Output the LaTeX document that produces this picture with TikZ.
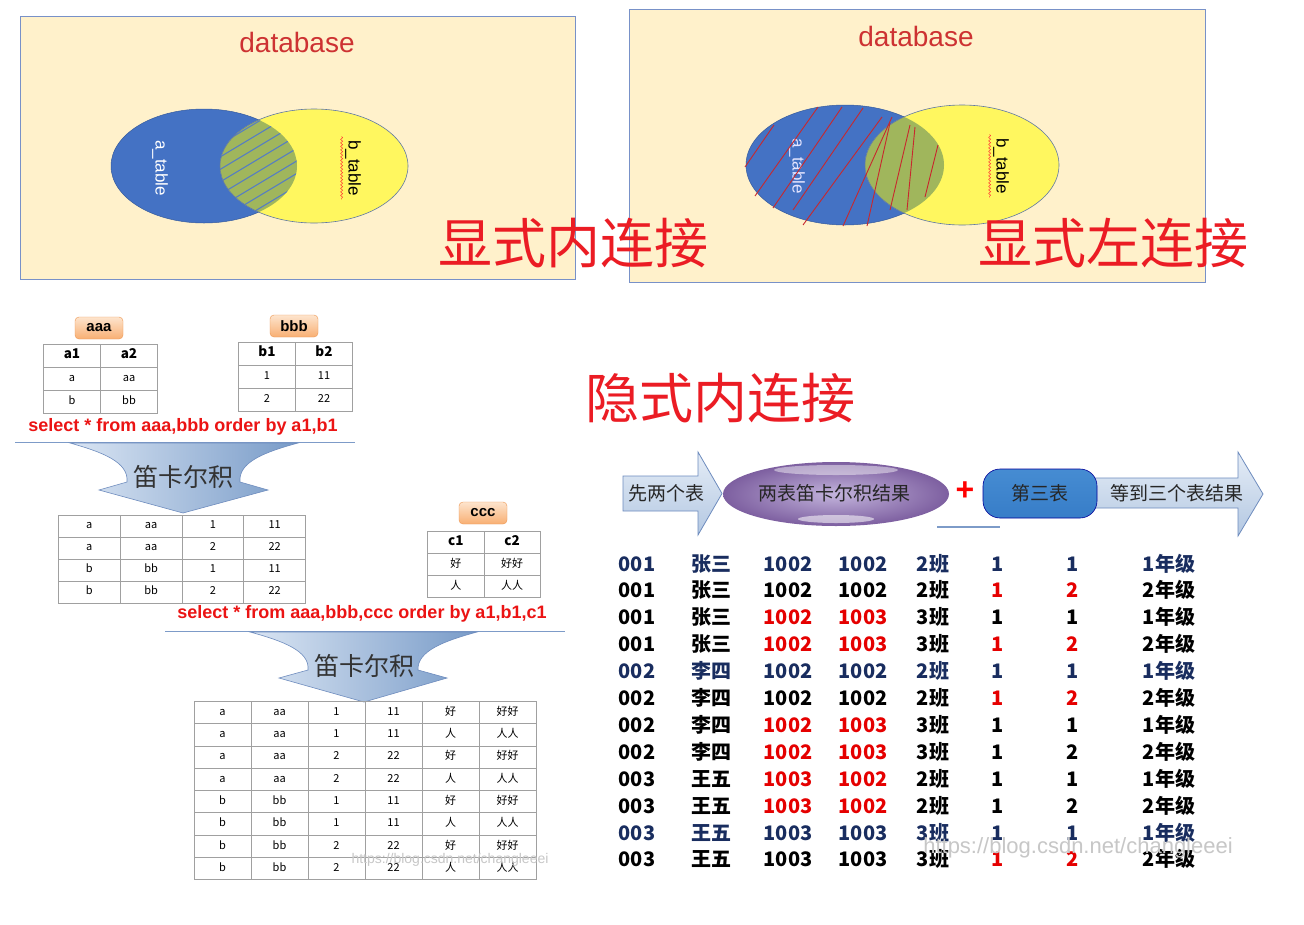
\documentclass[tikz,border=0pt]{standalone}
\usepackage{fontspec}
\setmainfont{Liberation Sans}
\newfontfamily\cjk{Noto Sans CJK SC}
\usetikzlibrary{matrix,positioning,calc,decorations.pathmorphing}
\definecolor{cream}{RGB}{255,241,203}
\definecolor{boxedge}{RGB}{120,145,200}
\definecolor{dbred}{RGB}{205,50,50}
\definecolor{bigred}{RGB}{235,28,36}
\definecolor{venblue}{RGB}{68,114,196}
\definecolor{venyellow}{RGB}{255,247,95}
\definecolor{venolive}{RGB}{160,182,92}
\definecolor{venedge}{RGB}{95,120,165}
\definecolor{hatchblue}{RGB}{85,125,195}
\definecolor{hatchred}{RGB}{200,40,45}
\definecolor{gridgray}{RGB}{160,160,160}
\definecolor{tagtop}{RGB}{253,228,205}
\definecolor{tagbot}{RGB}{248,175,115}
\definecolor{tagedge}{RGB}{238,150,80}
\definecolor{selred}{RGB}{235,20,20}
\definecolor{sepblue}{RGB}{125,155,200}
\definecolor{arrlight}{RGB}{218,229,243}
\definecolor{arrdark}{RGB}{120,155,200}
\definecolor{arredge}{RGB}{110,140,190}
\definecolor{navytxt}{RGB}{25,45,95}
\definecolor{purpout}{RGB}{125,95,160}
\definecolor{purpin}{RGB}{195,180,220}
\newcommand{\fsz}[1]{\fontsize{#1}{#1}\selectfont}

\begin{document}
\begin{tikzpicture}[x=1pt,y=-1pt,
  dbbox/.style={draw=boxedge,fill=cream,line width=0.9pt},
  dbtitle/.style={text=dbred,font=\fsz{28}},
  bigtxt/.style={text=bigred,font=\cjk\fsz{54}},
  tabname/.style={draw=tagedge,rounded corners=4,top color=tagtop,bottom color=tagbot,
    font=\bfseries\fsz{15},minimum width=48,minimum height=22,inner sep=0},
  tbl/.style={matrix of nodes,row sep=-0.8pt,column sep=-0.8pt,
    nodes={draw=gridgray,line width=0.8pt,inner sep=0,anchor=center,
      text height=8,text depth=2.5,font=\cjk\fsz{11}}},
  hdr/.style={row 1/.style={nodes={font=\cjk\bfseries\fsz{13.5}}}},
  sqltxt/.style={text=selred,font=\bfseries\fsz{18}},
  sepline/.style={draw=sepblue,line width=1pt},
  cartarrow/.style={left color=arrlight,right color=arrdark,draw=arredge,line width=0.6pt},
  carttxt/.style={text=black!80,font=\cjk\fsz{25}},
  blockarrow/.style={top color=arrlight!70!white,bottom color=arrlight!60!arrdark,draw=arredge,line width=0.8pt},
  flowtxt/.style={text=black!85,font=\cjk\fsz{19}},
  wavy/.style={red!80,line width=0.5pt,decorate,decoration={snake,amplitude=1pt,segment length=3.5pt}},
  wmark/.style={text=black!22},
  rd/.style={text=red!90!black}
]
\useasboundingbox[fill=white] (0,0) rectangle (1304,924);

% explicit inner join
\draw[dbbox] (20,16) rectangle (575,279);
\node[dbtitle] (db1) at (297,42) {database};
\filldraw[fill=venblue,draw=venblue!80!black,line width=0.5pt] (204,166) ellipse [x radius=93,y radius=57];
\fill[venyellow] (314,166) ellipse [x radius=94,y radius=57];
\begin{scope}
  \clip (204,166) ellipse [x radius=93,y radius=57];
  \clip (314,166) ellipse [x radius=94,y radius=57];
  \fill[venolive] (200,100) rectangle (320,240);
  \foreach \k in {-1,...,8}
    \draw[hatchblue,line width=1.1pt] (215,160+\k*12.5) -- (305,106+\k*12.5);
\end{scope}
\draw[venedge,line width=0.6pt] (314,166) ellipse [x radius=94,y radius=57];
\node[rotate=-90,text=white,font=\fsz{17}] (atab1) at (160,168) {a\_table};
\node[rotate=-90,font=\fsz{17}] (btab1) at (353,168) {b\_table};
\draw[wavy] (btab1.south west) -- (btab1.south east);

% explicit left join
\draw[dbbox] (629,9) rectangle (1205,282);
\node[dbtitle] (db2) at (916,36) {database};
\filldraw[fill=venblue,draw=venblue!80!black,line width=0.5pt] (845,165) ellipse [x radius=99,y radius=60];
\fill[venyellow] (962,165) ellipse [x radius=97,y radius=60];
\begin{scope}
  \clip (845,165) ellipse [x radius=99,y radius=60];
  \fill[venolive] (962,165) ellipse [x radius=97,y radius=60];
\end{scope}
\draw[venedge,line width=0.6pt] (962,165) ellipse [x radius=97,y radius=60];
\node[rotate=-90,text=white!90!blue,font=\fsz{17}] (atab2) at (797,166) {a\_table};
\node[rotate=-90,font=\fsz{17}] (btab2) at (1001,166) {b\_table};
\draw[wavy] (btab2.south west) -- (btab2.south east);
\foreach \xa/\ya/\xb/\yb in {745/167/774/125,755/196/818/107,773/208/842/107,793/210/863/108,
    803/225/882/117,843/226/892/117,867/226/890/123,890/210/910/125,907/210/915/127,925/197/938/145}
  \draw[hatchred,line width=0.9pt] (\xa,\ya) -- (\xb,\yb);
\node[bigtxt] (lbl1) at (573,243) {显式内连接};
\node[bigtxt] (lbl2) at (1113,243) {显式左连接};

% aaa x bbb
\node[tabname] (aaa) at (99,328) {aaa};
\matrix[tbl,hdr,nodes={minimum width=57,minimum height=23}] (tabA) at (100.5,378.5) {
  a1 & a2 \\
  a  & aa \\
  b  & bb \\
};
\node[tabname] (bbb) at (294,326) {bbb};
\matrix[tbl,hdr,nodes={minimum width=57,minimum height=23}] (tabB) at (295.5,376.5) {
  b1 & b2 \\
  1  & 11 \\
  2  & 22 \\
};
\node[sqltxt] (sql1) at (183,427) {select * from aaa,bbb order by a1,b1};
\draw[sepline] (15,442) -- (355,442);
\shadedraw[cartarrow] (70,443) -- (298,443) .. controls (265,452) and (238,462) .. (240,482)
  -- (268,490) -- (183,513) -- (99,490) -- (127,482) .. controls (129,462) and (102,452) .. (70,443) -- cycle;
\node[carttxt] (cart1) at (183,477) {笛卡尔积};
\matrix[tbl,nodes={minimum width=61.8,minimum height=22}] (res1) at (182,559) {
  a & aa & 1 & 11 \\
  a & aa & 2 & 22 \\
  b & bb & 1 & 11 \\
  b & bb & 2 & 22 \\
};

% ... x ccc
\node[tabname] (ccc) at (483,513) {ccc};
\matrix[tbl,hdr,nodes={minimum width=56.4,minimum height=22.2}] (tabC) at (484,564.5) {
  c1 & c2 \\
  好 & 好好 \\
  人 & 人人 \\
};
\node[sqltxt] (sql2) at (362,614) {select * from aaa,bbb,ccc order by a1,b1,c1};
\draw[sepline] (165,631) -- (565,631);
\shadedraw[cartarrow] (250,632) -- (477,632) .. controls (444,641) and (417,651) .. (418,670)
  -- (447,678) -- (364,702) -- (279,678) -- (308,670) .. controls (310,651) and (283,641) .. (250,632) -- cycle;
\node[carttxt] (cart2) at (364,666) {笛卡尔积};
\matrix[tbl,nodes={minimum width=57,minimum height=22.3}] (res2) at (365,790.5) {
  a & aa & 1 & 11 & 好 & 好好 \\
  a & aa & 1 & 11 & 人 & 人人 \\
  a & aa & 2 & 22 & 好 & 好好 \\
  a & aa & 2 & 22 & 人 & 人人 \\
  b & bb & 1 & 11 & 好 & 好好 \\
  b & bb & 1 & 11 & 人 & 人人 \\
  b & bb & 2 & 22 & 好 & 好好 \\
  b & bb & 2 & 22 & 人 & 人人 \\
};
\node[wmark,font=\fsz{14}] (wm1) at (450,860) {https://blog.csdn.net/changleeei};

% implicit inner join
\node[bigtxt] (lbl3) at (720,398) {隐式内连接};
\shadedraw[blockarrow] (623,476) -- (698,476) -- (698,452) -- (722,493.5) -- (698,535) -- (698,511) -- (623,511) -- cycle;
\node[flowtxt] (first) at (666,493) {先两个表};
\shade[inner color=purpin,outer color=purpout] (836,494) ellipse [x radius=113,y radius=32];
\fill[white,opacity=0.45] (836,470) ellipse [x radius=62,y radius=5];
\fill[white,opacity=0.55] (836,519) ellipse [x radius=38,y radius=4];
\node[flowtxt] (prod) at (834,493) {两表笛卡尔积结果};
\node[text=red,font=\bfseries\fsz{32}] (plus) at (965,491) {+};
\draw[sepblue,line width=2pt] (937,527) -- (1000,527);
\shadedraw[blockarrow] (1090,478) -- (1238,478) -- (1238,452) -- (1263,494) -- (1238,536) -- (1238,508) -- (1090,508) -- cycle;
\node[draw=blue!60!black,line width=0.6pt,rounded corners=17,minimum width=114,minimum height=49,
  top color={rgb,255:red,70;green,140;blue,210},middle color={rgb,255:red,178;green,214;blue,242},
  bottom color={rgb,255:red,55;green,125;blue,200},flowtxt] (third) at (1040,493.5) {第三表};
\node[flowtxt] (all) at (1177,493) {等到三个表结果};

\matrix[matrix of nodes,column sep=0,row sep=0,
  nodes={inner sep=0,anchor=center,minimum height=26.9,text height=15,text depth=3,font=\cjk\bfseries\fsz{20}},
  column 1/.style={nodes={minimum width=74}},column 2/.style={nodes={minimum width=74}},
  column 3/.style={nodes={minimum width=80}},column 4/.style={nodes={minimum width=70}},
  column 5/.style={nodes={minimum width=70}},column 6/.style={nodes={minimum width=60}},
  column 7/.style={nodes={minimum width=90}},column 8/.style={nodes={minimum width=102}},
  row 1/.style={nodes={text=navytxt}},row 5/.style={nodes={text=navytxt}},row 11/.style={nodes={text=navytxt}}
] (rows) at (910,713) {
  001 & 张三 & 1002 & 1002 & 2班 & 1 & 1 & 1年级 \\
  001 & 张三 & 1002 & 1002 & 2班 & |[rd]| 1 & |[rd]| 2 & 2年级 \\
  001 & 张三 & |[rd]| 1002 & |[rd]| 1003 & 3班 & 1 & 1 & 1年级 \\
  001 & 张三 & |[rd]| 1002 & |[rd]| 1003 & 3班 & |[rd]| 1 & |[rd]| 2 & 2年级 \\
  002 & 李四 & 1002 & 1002 & 2班 & 1 & 1 & 1年级 \\
  002 & 李四 & 1002 & 1002 & 2班 & |[rd]| 1 & |[rd]| 2 & 2年级 \\
  002 & 李四 & |[rd]| 1002 & |[rd]| 1003 & 3班 & 1 & 1 & 1年级 \\
  002 & 李四 & |[rd]| 1002 & |[rd]| 1003 & 3班 & 1 & 2 & 2年级 \\
  003 & 王五 & |[rd]| 1003 & |[rd]| 1002 & 2班 & 1 & 1 & 1年级 \\
  003 & 王五 & |[rd]| 1003 & |[rd]| 1002 & 2班 & 1 & 2 & 2年级 \\
  003 & 王五 & 1003 & 1003 & 3班 & 1 & 1 & 1年级 \\
  003 & 王五 & 1003 & 1003 & 3班 & |[rd]| 1 & |[rd]| 2 & 2年级 \\
};
\node[wmark,font=\fsz{22}] (wm2) at (1078,848) {https://blog.csdn.net/changleeei};
\end{tikzpicture}
\end{document}
